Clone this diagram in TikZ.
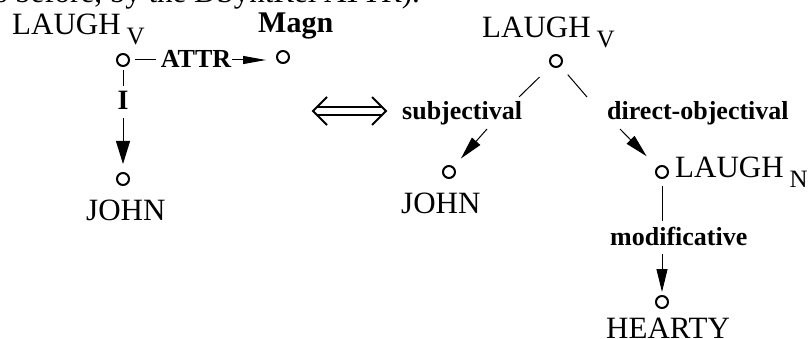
\documentclass[tikz,border=0pt]{standalone}
\usepackage{fontspec}
\setmainfont{Liberation Serif}
\usetikzlibrary{arrows.meta}
\newcommand{\subsz}{\fontsize{25}{25}\selectfont}
\begin{document}
\begin{tikzpicture}[x=1pt,y=-1pt,
  dot/.style={circle,draw,line width=2pt,minimum size=12pt,inner sep=0pt},
  word/.style={anchor=base west,inner sep=0pt,font=\fontsize{31}{31}\selectfont},
  rel/.style={inner sep=0pt,font=\bfseries\fontsize{26}{26}\selectfont},
  conn/.style={line width=1pt},
  tipthin/.style={-{Triangle[length=23pt,width=8pt]}},
  tipmid/.style={-{Triangle[length=23pt,width=11pt]}},
  tipwide/.style={-{Triangle[length=23pt,width=14pt]}},
  sym/.style={line width=2pt}]
\useasboundingbox (0,0) rectangle (808,339);
\clip (0,0) rectangle (808,339);
% cut-off line of running text
\node[anchor=base east,inner sep=0pt,font=\fontsize{31}{31}\selectfont] (top) at (420,3) {s before, by the DSyntRel ATTR).};
% ---------------- left structure
\node[dot] (l) at (123,60) {};
\node[word] (lt) at (12,35) {LAUGH\hspace{6pt}\raisebox{-10pt}{\subsz V}};
\node[dot] (m) at (283,57) {};
\node[anchor=base west,inner sep=0pt,font=\bfseries\fontsize{30}{30}\selectfont] (mt) at (258,33) {Magn};
\node[rel] (attr) at (196,59) {ATTR};
\node[rel,anchor=base,font=\bfseries\fontsize{28}{28}\selectfont] (i) at (123,110) {I};
\node[dot] (j) at (123,179) {};
\node[word] (jt) at (86,220) {JOHN};
\draw[conn,shorten <=5pt,shorten >=5pt] (l) -- (attr.west |- l);
\draw[conn,tipthin,shorten <=1pt,shorten >=10pt] (attr.east |- l) -- (m.west |- l);
\draw[conn,shorten <=3pt,shorten >=5pt] (l) -- (i.north -| l);
\draw[conn,tipwide,shorten <=8pt,shorten >=8pt] (i.south -| l) -- (j);
% ---------------- double arrow
\coordinate (dl) at (313,111);
\coordinate (dr) at (386,111);
\draw[sym] ([xshift=4pt,yshift=4pt]dl) -- ([xshift=-4pt,yshift=4pt]dr);
\draw[sym] ([xshift=4pt,yshift=-4pt]dl) -- ([xshift=-4pt,yshift=-4pt]dr);
\draw[sym,line join=miter] ([xshift=14pt,yshift=14pt]dl) -- (dl) -- ([xshift=14pt,yshift=-14pt]dl);
\draw[sym,line join=miter] ([xshift=-14pt,yshift=14pt]dr) -- (dr) -- ([xshift=-14pt,yshift=-14pt]dr);
% ---------------- right structure
\node[dot] (r) at (556,61) {};
\node[word] (rt) at (482,38) {LAUGH\hspace{6pt}\raisebox{-10pt}{\subsz V}};
\node[rel,anchor=base west] (subj) at (402,120) {subjectival};
\node[rel,anchor=base west] (dobj) at (607,120) {direct-objectival};
\node[dot] (rj) at (449,172) {};
\node[word] (rjt) at (401,213) {JOHN};
\node[dot] (rl) at (662,172) {};
\node[word] (rlt) at (675,178) {LAUGH\hspace{6pt}\raisebox{-10pt}{\subsz N}};
\node[rel,anchor=base west] (mod) at (610,245) {modificative};
\node[dot] (h) at (662,302) {};
\node[word] (ht) at (606,338) {HEARTY};
\coordinate (s1) at (519,97);
\coordinate (s2) at (487,129);
\coordinate (d1) at (587,97);
\coordinate (d2) at (620,129);
\draw[conn,shorten <=16pt] (r) -- (s1);
\draw[conn,tipmid,shorten >=11pt] (s2) -- (rj);
\draw[conn,shorten <=11pt] (r) -- (d1);
\draw[conn,tipmid,shorten >=15pt] (d2) -- (rl);
\draw[conn,shorten <=7pt,shorten >=5pt] (rl) -- (mod.north -| rl);
\draw[conn,tipmid,shorten <=9pt,shorten >=3pt] (mod.south -| rl) -- (h);
\end{tikzpicture}
\end{document}
